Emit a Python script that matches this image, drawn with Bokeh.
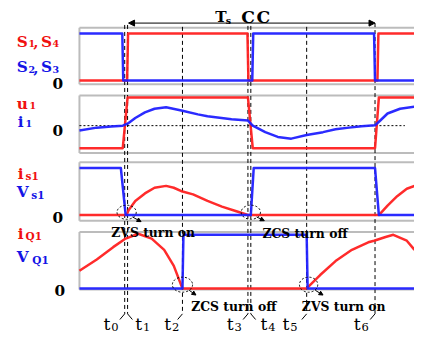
from bokeh.plotting import figure
from bokeh.models import Range1d, Arrow, NormalHead
from bokeh.embed import file_html
from bokeh.resources import INLINE
from bokeh.core.properties import value

# ---------------- data (time in arbitrary units, normalised waveforms) ----------------
t_marks = [4.7, 5.0, 10.7, 17.5, 17.8, 23.6, 30.7]
t_names = ["0", "1", "2", "3", "4", "5", "6"]
t_start, t_end = 0.0, 34.8

# panel 1 : gate signals
s14_t = [0, 4.95, 5.05, 17.45, 17.55, 30.95, 31.05, 34.8]
s14_v = [0, 0, 1, 1, 0, 0, 1, 1]
s23_t = [0, 4.45, 4.55, 17.95, 18.05, 30.6, 30.7, 34.8]
s23_v = [1, 1, 0, 0, 1, 1, 0, 0]

# panel 2 : u1 / i1
u1_t = [0, 4.5, 5.0, 17.5, 18.0, 30.7, 31.1, 34.8]
u1_v = [-0.8, -0.8, 1, 1, -0.8, -0.8, 1, 1]
i1_t = [0, 1.8, 3.3, 4.5, 5.0, 5.8, 6.8, 7.8, 9.0, 10.7, 12.3, 13.3, 15.8, 17.5,
        18.0, 19.3, 20.6, 22.0, 23.6, 25.3, 26.6, 28.0, 29.3, 30.7, 31.3, 32.0, 33.3, 34.8]
i1_v = [-0.17, -0.07, -0.03, 0.0, 0.07, 0.27, 0.47, 0.6, 0.65, 0.53, 0.4, 0.33, 0.23, 0.18,
        0.0, -0.23, -0.4, -0.46, -0.33, -0.23, -0.13, -0.07, -0.02, 0.01, 0.2, 0.43, 0.6, 0.67]

# panel 3 : is1 / Vs1
vs1_t = [0, 4.3, 4.8, 17.8, 18.1, 30.7, 31.1, 34.8]
vs1_v = [1, 1, 0, 0, 1, 1, 0, 0]
is1_t = [0, 4.9, 5.1, 5.8, 6.8, 7.8, 9.0, 9.8, 10.7, 11.8, 13.3, 14.8, 16.3, 17.5,
         31.1, 32.0, 33.0, 34.0, 34.8]
is1_v = [0, 0, 0.1, 0.3, 0.46, 0.58, 0.62, 0.58, 0.5, 0.44, 0.3, 0.18, 0.08, 0,
         0, 0.2, 0.4, 0.56, 0.62]

# panel 4 : iQ1 / VQ1
iq1_t = [0, 1.8, 3.5, 4.8, 6.1, 7.5, 8.8, 9.8, 10.7, 23.6, 25.0, 26.6, 28.3, 30.0,
         30.6, 31.8, 32.6, 34.0, 34.8]
iq1_v = [0.33, 0.54, 0.77, 0.93, 1.02, 0.93, 0.72, 0.42, 0, 0, 0.25, 0.51, 0.72, 0.86,
         0.89, 0.96, 1.0, 0.89, 0.72]
vq1_t = [0, 10.7, 10.8, 23.6, 23.7, 34.8]
vq1_v = [0, 0, 1, 1, 0, 0]

# ---------------- layout (reference-picture pixel units) ----------------
X0, X1, Y0, Y1 = 0, 430, 0, 356
PX_LEFT, PX_PER_T = 82, 10.0
panels = {                                # zero line, amplitude, frame top, frame bottom
    "p1": (85, 50, 29, 89),
    "p2": (133, 30, 101, 162),
    "p3": (228, 50, 172, 234),
    "p4": (306, 57, 246, 307),
}
RED, BLUE = "#ff2020", "#2020ff"
TRED, TBLUE = "#f01010", "#1414e6"
SERIF = value("DejaVu Serif")
FS = 0.955                                 # font scale

p = figure(width=414, height=335, output_backend="svg", toolbar_location=None,
           x_range=Range1d(X0, X1), y_range=Range1d(Y1, Y0),
           x_axis_location=None, y_axis_location=None, min_border=0)
p.grid.visible = False
p.outline_line_color = None
p.background_fill_color = "white"

p.extra_x_ranges = {"time": Range1d((X0 - PX_LEFT) / PX_PER_T, (X1 - PX_LEFT) / PX_PER_T)}
p.extra_y_ranges = {k: Range1d((z - Y1) / a, (z - Y0) / a) for k, (z, a, _, _) in panels.items()}

# panel frames
for k, (z, a, top, bot) in panels.items():
    p.segment(x0=[PX_LEFT, PX_LEFT, PX_LEFT], y0=[top, bot, top],
              x1=[X1, X1, PX_LEFT], y1=[top, bot, bot],
              line_color="#bcbcbc", line_width=2)

# vertical dashed time markers
tops = [26, 26, 28, 27, 27, 28, 24]
p.segment(x0=t_marks, x1=t_marks, y0=tops, y1=[333] * len(t_marks),
          x_range_name="time", line_color="black", line_dash="4 3", line_width=1)
dirs = [-1, 1, -1, -1, 1, -1, -1]
p.segment(x0=t_marks, y0=[333] * 7, x1=[t + d * 0.5 for t, d in zip(t_marks, dirs)],
          y1=[339] * 7, x_range_name="time", line_color="black", line_width=1)

# zero dotted line in panel 2
p.line([t_start, 33.8], [0, 0], x_range_name="time", y_range_name="p2",
       line_color="black", line_dash="2 2", line_width=1)

# waveforms
def wave(t, v, panel, color):
    p.line(t, v, x_range_name="time", y_range_name=panel, line_color=color,
           line_width=2.5, line_alpha=0.95, line_join="round")

wave(s14_t, s14_v, "p1", RED)
wave(s23_t, s23_v, "p1", BLUE)
wave(u1_t, u1_v, "p2", RED)
wave(i1_t, i1_v, "p2", BLUE)
wave(is1_t, is1_v, "p3", RED)
wave(vs1_t, vs1_v, "p3", BLUE)
wave(iq1_t, iq1_v, "p4", RED)
wave(vq1_t, vq1_v, "p4", BLUE)

# top period arrow
p.add_layout(Arrow(x_start=t_marks[6], x_end=t_marks[1] + 0.1, y_start=24, y_end=24,
                   x_range_name="time", line_width=1, line_color="black",
                   start=NormalHead(size=6, fill_color="black", line_color="black"),
                   end=NormalHead(size=6, fill_color="black", line_color="black")))

# text helper
def txt(x, y, s, color, size, bold=True, align="left"):
    p.text(x=[x], y=[y], text=[s], text_color=color, text_font=SERIF,
           text_font_size=f"{size * FS:.1f}px",
           text_font_style="bold" if bold else "normal",
           text_baseline="alphabetic", text_align=align)

# period title
txt(223, 18, "T", "black", 16)
txt(234, 21, "s", "black", 10)
txt(250, 18, "C", "black", 18)
txt(266, 18, "C", "black", 18)

# left labels
for (y, col, a, b) in [(44, TRED, "1", "4"), (71, TBLUE, "2", "3")]:
    txt(17, y, "S", col, 16); txt(29, y + 2, a, col, 10)
    txt(34, y, ",", col, 16)
    txt(42, y, "S", col, 16); txt(54, y + 2, b, col, 10)
txt(17, 110, "u", TRED, 16); txt(30, 112, "1", TRED, 10)
txt(18, 129, "i", TBLUE, 16); txt(26, 131, "1", TBLUE, 10)
txt(18, 184, "i", TRED, 16); txt(26, 187, "s1", TRED, 11)
txt(17, 204, "V", TBLUE, 16); txt(32, 207, "s1", TBLUE, 11)
txt(18, 248, "i", TRED, 16); txt(26, 250, "Q1", TRED, 11)
txt(17, 273, "V", TBLUE, 16); txt(33, 276, "Q1", TBLUE, 11)
for (x, y) in [(54, 88), (54, 138), (54, 231), (56, 308)]:
    txt(x, y, "0", "black", 16)

# bottom time labels
lab_x = [107, 140, 170, 235, 270, 293, 367]
for lx, n in zip(lab_x, t_names):
    txt(lx, 344, "t", "black", 18, bold=False)
    txt(lx + 8, 347, n, "black", 12, bold=False)

# soft-switching annotations
txt(115, 247, "ZVS turn on", "black", 13)
txt(272, 248, "ZCS turn off", "black", 13)
txt(198, 325, "ZCS turn off", "black", 13)
txt(313, 325, "ZVS turn on", "black", 13)

circ_t = [t_marks[1] - 0.1, t_marks[4], t_marks[2], t_marks[5] + 0.2]
circ_y = [225, 225, 302, 302]
p.ellipse(x=circ_t, y=circ_y, width=[2.0, 2.0, 2.1, 1.9], height=[15, 15, 16, 16],
          x_range_name="time", fill_color=None, line_color="black",
          line_dash="2 2", line_width=1)
for (xs, ys, xe, ye) in [(137, 230, 146, 235), (266, 230, 274, 234),
                         (196, 308, 203, 313), (327, 308, 335, 313)]:
    p.add_layout(Arrow(x_start=xs, y_start=ys, x_end=xe, y_end=ye, line_width=1,
                       end=NormalHead(size=4, fill_color="black", line_color="black")))

open("out.html", "w").write(file_html(p, INLINE))
